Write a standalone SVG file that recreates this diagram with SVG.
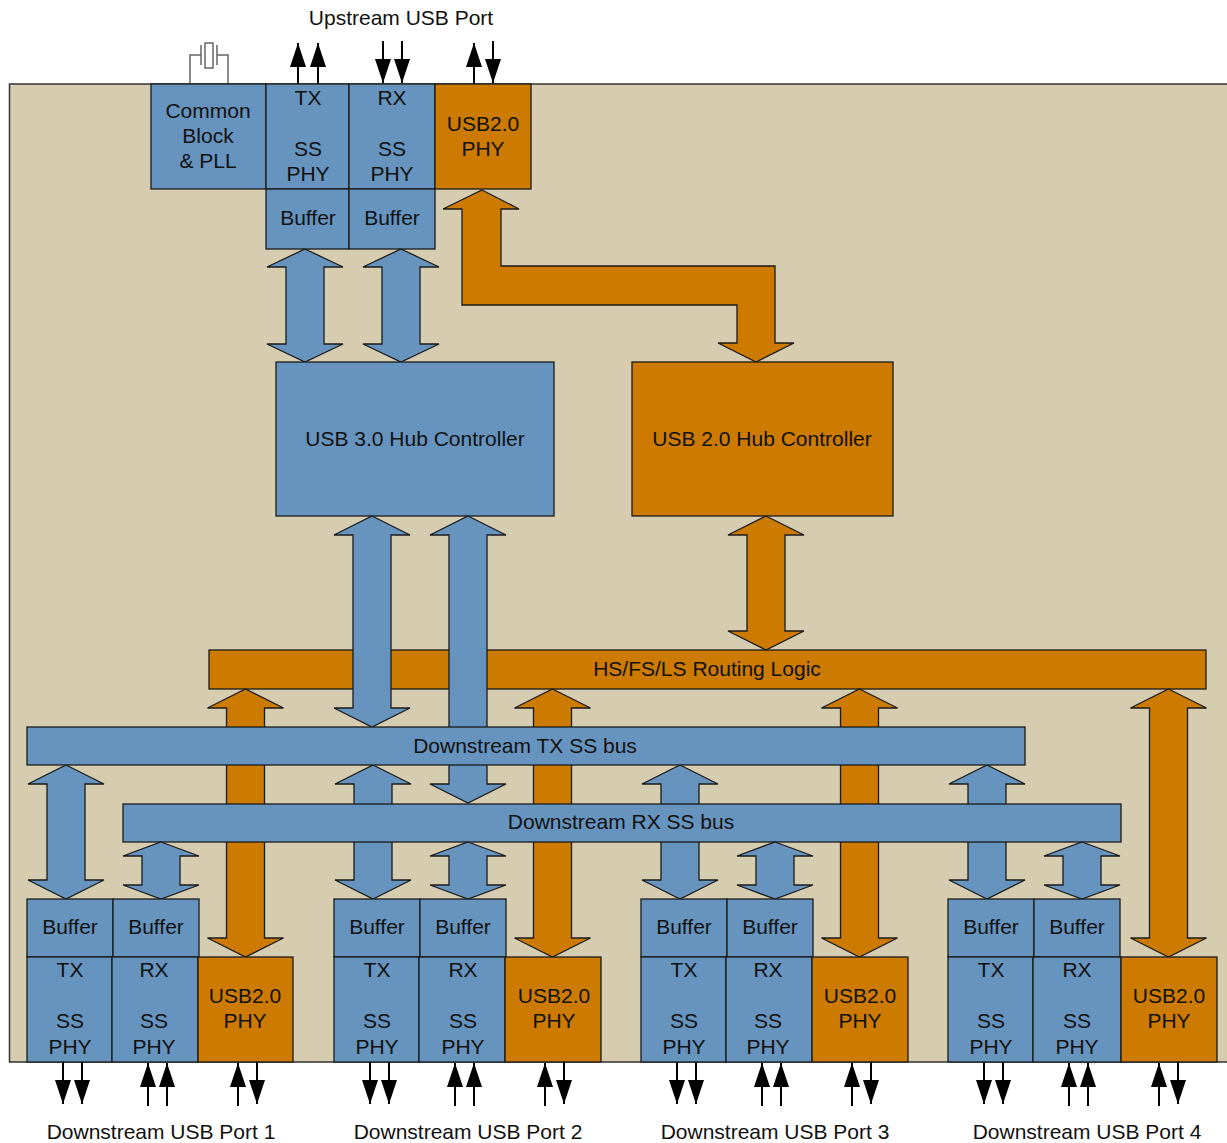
<svg xmlns="http://www.w3.org/2000/svg" width="1227" height="1143" viewBox="0 0 1227 1143">
<defs>
<style>
.b{fill:#6694BF;stroke:#1a1a1a;stroke-width:1.3}
.o{fill:#CC7A00;stroke:#1a1a1a;stroke-width:1.3}
.t{font-family:"Liberation Sans",Arial,sans-serif;font-size:21px;fill:#111;text-anchor:middle}
.w{stroke:#000;stroke-width:2;fill:none}
.x{stroke:#666;stroke-width:1.5;fill:none}
</style>
<marker id="ah" viewBox="0 0 24 16" refX="24" refY="8" markerWidth="24" markerHeight="16" markerUnits="userSpaceOnUse" orient="auto">
<path d="M0,0 L24,8 L0,16 z" fill="#000"/>
</marker>
<polygon id="arrO" points="245.5,689 283.5,708 264.5,708 264.5,938 283.5,938 245.5,957 207.5,938 226.5,938 226.5,708 207.5,708"/>
<polygon id="arrTX" points="66,765 104,784 85,784 85,880 104,880 66,899 28,880 47,880 47,784 28,784"/>
<polygon id="arrRX" points="161,842 199,856 180,856 180,885 199,885 161,899 123,885 142,885 142,856 123,856"/>
</defs>
<rect x="0" y="0" width="1227" height="1143" fill="#fff"/>
<rect id="board" x="9.5" y="84" width="1230" height="978" fill="#D6CDB1" stroke="#333" stroke-width="1.5"/>

<text class="t" x="401" y="25">Upstream USB Port</text>

<g id="crystal">
<path class="x" d="M190,84 V55 H201 M228,84 V55 H217 M201,45 V65 M217,45 V65"/>
<rect x="205" y="43" width="8" height="25" fill="#fff" stroke="#666" stroke-width="1.5"/>
</g>

<g id="routing-logic"><rect class="o" x="209" y="650" width="997" height="39"/><text class="t" x="707" y="676">HS/FS/LS Routing Logic</text></g>

<g id="connectors-lower">
<use href="#arrO" class="o"/>
<use href="#arrO" class="o" x="307"/>
<use href="#arrO" class="o" x="614"/>
<use href="#arrO" class="o" x="923"/>
<polygon class="o" points="766,516 804,535 785,535 785,631 804,631 766,650 728,631 747,631 747,535 728,535"/>
<polygon class="b" points="372,516 410,535 391,535 391,708 410,708 372,727 334,708 353,708 353,535 334,535"/>
<polygon class="b" points="468,516 506,535 487,535 487,784 506,784 468,803 430,784 449,784 449,535 430,535"/>
<use href="#arrTX" class="b"/>
<use href="#arrTX" class="b" x="307"/>
<use href="#arrTX" class="b" x="614"/>
<use href="#arrTX" class="b" x="921"/>
</g>

<g id="tx-bus"><rect class="b" x="27" y="727" width="998" height="38"/><text class="t" x="525" y="753">Downstream TX SS bus</text></g>
<g id="rx-bus"><rect class="b" x="123" y="804" width="998" height="38"/><text class="t" x="621" y="829">Downstream RX SS bus</text></g>

<g id="connectors">
<use href="#arrRX" class="b"/>
<use href="#arrRX" class="b" x="307"/>
<use href="#arrRX" class="b" x="614"/>
<use href="#arrRX" class="b" x="921"/>
<polygon class="b" points="305,249 343,267 324,267 324,344 343,344 305,362 267,344 286,344 286,267 267,267"/>
<polygon class="b" points="401,249 439,267 420,267 420,344 439,344 401,362 363,344 382,344 382,267 363,267"/>
<polygon class="o" points="482,190 519,209 501,209 501,266 775,266 775,343 794,343 756,362 718,343 737,343 737,305 462,305 462,209 443,209"/>
<line class="w" x1="298" y1="84" x2="298" y2="43" marker-end="url(#ah)"/>
<line class="w" x1="318" y1="84" x2="318" y2="43" marker-end="url(#ah)"/>
<line class="w" x1="383" y1="41" x2="383" y2="83" marker-end="url(#ah)"/>
<line class="w" x1="402" y1="41" x2="402" y2="83" marker-end="url(#ah)"/>
<line class="w" x1="474" y1="84" x2="474" y2="43" marker-end="url(#ah)"/>
<line class="w" x1="493" y1="41" x2="493" y2="83" marker-end="url(#ah)"/>
</g>

<g id="common-block"><rect class="b" x="151" y="84" width="115" height="105"/><text class="t" x="208" y="118">Common</text><text class="t" x="208" y="143">Block</text><text class="t" x="208" y="168">&amp; PLL</text></g>
<g id="up-tx-phy"><rect class="b" x="266" y="84" width="83" height="105"/><text class="t" x="308" y="105">TX</text><text class="t" x="308" y="156">SS</text><text class="t" x="308" y="181">PHY</text></g>
<g id="up-rx-phy"><rect class="b" x="349" y="84" width="86" height="105"/><text class="t" x="392" y="105">RX</text><text class="t" x="392" y="156">SS</text><text class="t" x="392" y="181">PHY</text></g>
<g id="up-usb2-phy"><rect class="o" x="435" y="84" width="96" height="105"/><text class="t" x="483" y="131">USB2.0</text><text class="t" x="483" y="156">PHY</text></g>
<g id="up-tx-buffer"><rect class="b" x="266" y="189" width="83" height="60"/><text class="t" x="308" y="225">Buffer</text></g>
<g id="up-rx-buffer"><rect class="b" x="349" y="189" width="86" height="60"/><text class="t" x="392" y="225">Buffer</text></g>

<g id="usb3-hub"><rect class="b" x="276" y="362" width="278" height="154"/><text class="t" x="415" y="446">USB 3.0 Hub Controller</text></g>
<g id="usb2-hub"><rect class="o" x="632" y="362" width="261" height="154"/><text class="t" x="762" y="446">USB 2.0 Hub Controller</text></g>

<g id="port1">
<g id="p1-tx-buffer"><rect class="b" x="27" y="899" width="86" height="58"/><text class="t" x="70" y="934">Buffer</text></g>
<g id="p1-rx-buffer"><rect class="b" x="113" y="899" width="86" height="58"/><text class="t" x="156" y="934">Buffer</text></g>
<g id="p1-tx-phy"><rect class="b" x="27" y="957" width="85" height="105"/><text class="t" x="70" y="977">TX</text><text class="t" x="70" y="1028">SS</text><text class="t" x="70" y="1054">PHY</text></g>
<g id="p1-rx-phy"><rect class="b" x="112" y="957" width="86" height="105"/><text class="t" x="154" y="977">RX</text><text class="t" x="154" y="1028">SS</text><text class="t" x="154" y="1054">PHY</text></g>
<g id="p1-usb2-phy"><rect class="o" x="198" y="957" width="95" height="105"/><text class="t" x="245" y="1003">USB2.0</text><text class="t" x="245" y="1028">PHY</text></g>
</g>
<g id="port2" transform="translate(307,0)">
<g id="p2-tx-buffer"><rect class="b" x="27" y="899" width="86" height="58"/><text class="t" x="70" y="934">Buffer</text></g>
<g id="p2-rx-buffer"><rect class="b" x="113" y="899" width="86" height="58"/><text class="t" x="156" y="934">Buffer</text></g>
<g id="p2-tx-phy"><rect class="b" x="27" y="957" width="85" height="105"/><text class="t" x="70" y="977">TX</text><text class="t" x="70" y="1028">SS</text><text class="t" x="70" y="1054">PHY</text></g>
<g id="p2-rx-phy"><rect class="b" x="112" y="957" width="86" height="105"/><text class="t" x="156" y="977">RX</text><text class="t" x="156" y="1028">SS</text><text class="t" x="156" y="1054">PHY</text></g>
<g id="p2-usb2-phy"><rect class="o" x="198" y="957" width="96" height="105"/><text class="t" x="247" y="1003">USB2.0</text><text class="t" x="247" y="1028">PHY</text></g>
</g>
<g id="port3" transform="translate(614,0)">
<g id="p3-tx-buffer"><rect class="b" x="27" y="899" width="86" height="58"/><text class="t" x="70" y="934">Buffer</text></g>
<g id="p3-rx-buffer"><rect class="b" x="113" y="899" width="86" height="58"/><text class="t" x="156" y="934">Buffer</text></g>
<g id="p3-tx-phy"><rect class="b" x="27" y="957" width="85" height="105"/><text class="t" x="70" y="977">TX</text><text class="t" x="70" y="1028">SS</text><text class="t" x="70" y="1054">PHY</text></g>
<g id="p3-rx-phy"><rect class="b" x="112" y="957" width="86" height="105"/><text class="t" x="154" y="977">RX</text><text class="t" x="154" y="1028">SS</text><text class="t" x="154" y="1054">PHY</text></g>
<g id="p3-usb2-phy"><rect class="o" x="198" y="957" width="96" height="105"/><text class="t" x="246" y="1003">USB2.0</text><text class="t" x="246" y="1028">PHY</text></g>
</g>
<g id="port4" transform="translate(921,0)">
<g id="p4-tx-buffer"><rect class="b" x="27" y="899" width="86" height="58"/><text class="t" x="70" y="934">Buffer</text></g>
<g id="p4-rx-buffer"><rect class="b" x="113" y="899" width="86" height="58"/><text class="t" x="156" y="934">Buffer</text></g>
<g id="p4-tx-phy"><rect class="b" x="27" y="957" width="85" height="105"/><text class="t" x="70" y="977">TX</text><text class="t" x="70" y="1028">SS</text><text class="t" x="70" y="1054">PHY</text></g>
<g id="p4-rx-phy"><rect class="b" x="112" y="957" width="88" height="105"/><text class="t" x="156" y="977">RX</text><text class="t" x="156" y="1028">SS</text><text class="t" x="156" y="1054">PHY</text></g>
<g id="p4-usb2-phy"><rect class="o" x="200" y="957" width="96" height="105"/><text class="t" x="248" y="1003">USB2.0</text><text class="t" x="248" y="1028">PHY</text></g>
</g>

<g id="port-signals">
<g id="sig1">
<line class="w" x1="63" y1="1062" x2="63" y2="1104" marker-end="url(#ah)"/>
<line class="w" x1="82" y1="1062" x2="82" y2="1104" marker-end="url(#ah)"/>
<line class="w" x1="148" y1="1106" x2="148" y2="1063" marker-end="url(#ah)"/>
<line class="w" x1="167" y1="1106" x2="167" y2="1063" marker-end="url(#ah)"/>
<line class="w" x1="238" y1="1106" x2="238" y2="1063" marker-end="url(#ah)"/>
<line class="w" x1="257" y1="1062" x2="257" y2="1104" marker-end="url(#ah)"/>
</g>
<use href="#sig1" x="307"/>
<use href="#sig1" x="614"/>
<use href="#sig1" x="921"/>
</g>

<text class="t" x="161" y="1139">Downstream USB Port 1</text>
<text class="t" x="468" y="1139">Downstream USB Port 2</text>
<text class="t" x="775" y="1139">Downstream USB Port 3</text>
<text class="t" x="1087" y="1139">Downstream USB Port 4</text>
</svg>
